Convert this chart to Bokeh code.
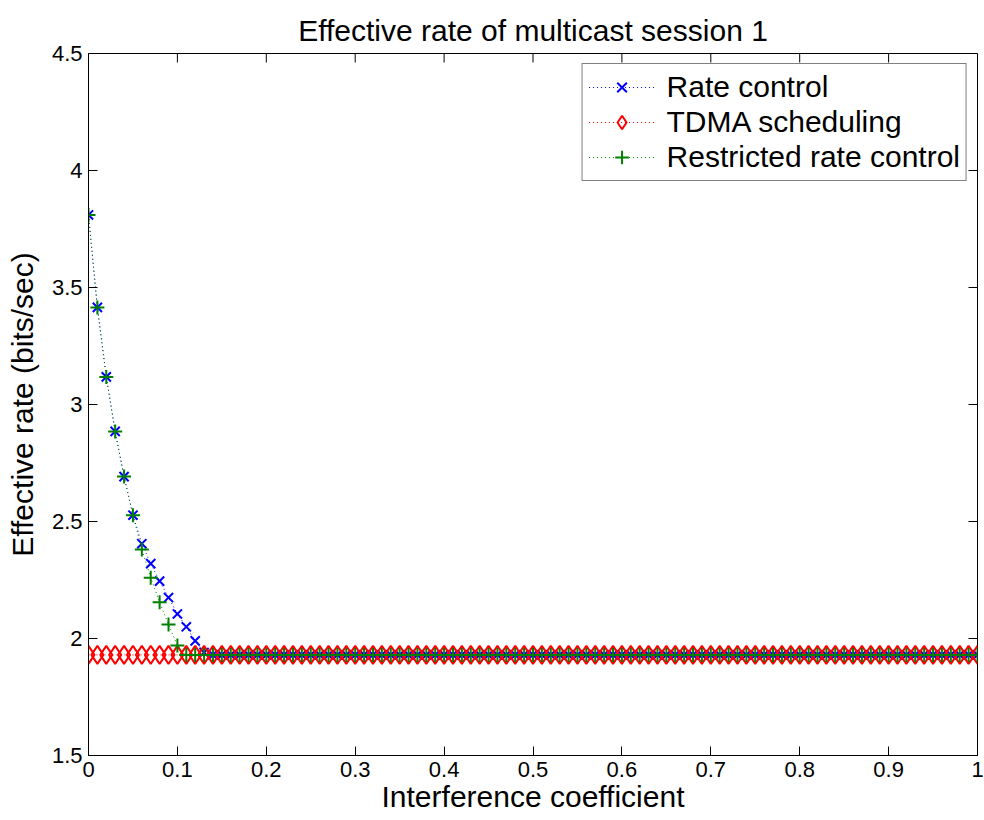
import math
from bokeh.plotting import figure
from bokeh.models import FixedTicker, Legend, LegendItem, Range1d
from bokeh.embed import file_html
from bokeh.resources import INLINE

# Interference coefficient grid (0 to 1 in steps of 0.01)
x = [i / 100 for i in range(101)]

rate_control = [
    3.81, 3.415, 3.118, 2.885, 2.692, 2.527, 2.405, 2.32, 2.245, 2.175,
    2.105, 2.05, 1.99, 1.94, 1.93, 1.93, 1.93, 1.93, 1.93, 1.93,
    1.93, 1.93, 1.93, 1.93, 1.93, 1.93, 1.93, 1.93, 1.93, 1.93,
    1.93, 1.93, 1.93, 1.93, 1.93, 1.93, 1.93, 1.93, 1.93, 1.93,
    1.93, 1.93, 1.93, 1.93, 1.93, 1.93, 1.93, 1.93, 1.93, 1.93,
    1.93, 1.93, 1.93, 1.93, 1.93, 1.93, 1.93, 1.93, 1.93, 1.93,
    1.93, 1.93, 1.93, 1.93, 1.93, 1.93, 1.93, 1.93, 1.93, 1.93,
    1.93, 1.93, 1.93, 1.93, 1.93, 1.93, 1.93, 1.93, 1.93, 1.93,
    1.93, 1.93, 1.93, 1.93, 1.93, 1.93, 1.93, 1.93, 1.93, 1.93,
    1.93, 1.93, 1.93, 1.93, 1.93, 1.93, 1.93, 1.93, 1.93, 1.93,
    1.93,
]

tdma = [
    1.93, 1.93, 1.93, 1.93, 1.93, 1.93, 1.93, 1.93, 1.93, 1.93,
    1.93, 1.93, 1.93, 1.93, 1.93, 1.93, 1.93, 1.93, 1.93, 1.93,
    1.93, 1.93, 1.93, 1.93, 1.93, 1.93, 1.93, 1.93, 1.93, 1.93,
    1.93, 1.93, 1.93, 1.93, 1.93, 1.93, 1.93, 1.93, 1.93, 1.93,
    1.93, 1.93, 1.93, 1.93, 1.93, 1.93, 1.93, 1.93, 1.93, 1.93,
    1.93, 1.93, 1.93, 1.93, 1.93, 1.93, 1.93, 1.93, 1.93, 1.93,
    1.93, 1.93, 1.93, 1.93, 1.93, 1.93, 1.93, 1.93, 1.93, 1.93,
    1.93, 1.93, 1.93, 1.93, 1.93, 1.93, 1.93, 1.93, 1.93, 1.93,
    1.93, 1.93, 1.93, 1.93, 1.93, 1.93, 1.93, 1.93, 1.93, 1.93,
    1.93, 1.93, 1.93, 1.93, 1.93, 1.93, 1.93, 1.93, 1.93, 1.93,
    1.93,
]

restricted = [
    3.81, 3.415, 3.118, 2.885, 2.692, 2.527, 2.38, 2.26, 2.155, 2.06,
    1.97, 1.93, 1.93, 1.93, 1.93, 1.93, 1.93, 1.93, 1.93, 1.93,
    1.93, 1.93, 1.93, 1.93, 1.93, 1.93, 1.93, 1.93, 1.93, 1.93,
    1.93, 1.93, 1.93, 1.93, 1.93, 1.93, 1.93, 1.93, 1.93, 1.93,
    1.93, 1.93, 1.93, 1.93, 1.93, 1.93, 1.93, 1.93, 1.93, 1.93,
    1.93, 1.93, 1.93, 1.93, 1.93, 1.93, 1.93, 1.93, 1.93, 1.93,
    1.93, 1.93, 1.93, 1.93, 1.93, 1.93, 1.93, 1.93, 1.93, 1.93,
    1.93, 1.93, 1.93, 1.93, 1.93, 1.93, 1.93, 1.93, 1.93, 1.93,
    1.93, 1.93, 1.93, 1.93, 1.93, 1.93, 1.93, 1.93, 1.93, 1.93,
    1.93, 1.93, 1.93, 1.93, 1.93, 1.93, 1.93, 1.93, 1.93, 1.93,
    1.93,
]

x_ticks = [0, 0.1, 0.2, 0.3, 0.4, 0.5, 0.6, 0.7, 0.8, 0.9, 1]
x_tick_labels = ["0", "0.1", "0.2", "0.3", "0.4", "0.5", "0.6", "0.7", "0.8", "0.9", "1"]
y_ticks = [1.5, 2, 2.5, 3, 3.5, 4, 4.5]
y_tick_labels = ["1.5", "2", "2.5", "3", "3.5", "4", "4.5"]

series_names = ["Rate control", "TDMA scheduling", "Restricted rate control"]

FONT = "Liberation Sans"
BLUE = "#0000ff"
RED = "#ff0000"
GREEN = "#008000"
X_MIN, X_MAX = 0, 1
Y_MIN, Y_MAX = 1.5, 4.5

p = figure(
    width=984, height=820,
    x_range=Range1d(X_MIN, X_MAX), y_range=Range1d(Y_MIN, Y_MAX),
    output_backend="svg", toolbar_location=None,
    title="Effective rate of multicast session 1",
    min_border_left=88, min_border_right=7, min_border_top=53, min_border_bottom=65,
    x_axis_label="Interference coefficient",
    y_axis_label="Effective rate (bits/sec)",
)
p.grid.visible = False
p.outline_line_color = "black"
p.outline_line_width = 1
p.background_fill_color = "white"
p.border_fill_color = "white"

p.title.align = "center"
p.title.text_font = FONT
p.title.text_font_size = "30px"
p.title.text_font_style = "normal"
p.title.text_color = "black"
p.title.standoff = 14


def style_axis(ax, ticks, labels):
    ax.ticker = FixedTicker(ticks=ticks)
    ax.major_label_overrides = {t: l for t, l in zip(ticks, labels)}
    ax.major_tick_in = 9
    ax.major_tick_out = 0
    ax.minor_tick_line_color = None
    ax.axis_line_color = "black"
    ax.major_tick_line_color = "black"
    ax.major_label_text_font = FONT
    ax.major_label_text_font_size = "22px"
    ax.major_label_text_color = "black"
    ax.axis_label_text_font = FONT
    ax.axis_label_text_font_size = "30px"
    ax.axis_label_text_font_style = "normal"
    ax.axis_label_text_color = "black"


style_axis(p.xaxis[0], x_ticks, x_tick_labels)
p.xaxis[0].major_label_standoff = 6
p.xaxis[0].axis_label_standoff = 0
style_axis(p.yaxis[0], y_ticks, y_tick_labels)
p.yaxis[0].major_label_standoff = 6
p.yaxis[0].axis_label_standoff = 10

# inward ticks on the top and right edges of the box
p.ray(x=x_ticks, y=[Y_MAX] * len(x_ticks), length=9, length_units="screen",
      angle=-math.pi / 2, line_color="black", line_width=1)
p.ray(x=[X_MAX] * len(y_ticks), y=y_ticks, length=9, length_units="screen",
      angle=math.pi, line_color="black", line_width=1)

l1 = p.line(x, rate_control, line_color=BLUE, line_dash="1 3", line_width=1)
s1 = p.scatter(x, rate_control, marker="x", size=13, line_color=BLUE, line_width=2)
l2 = p.line(x, tdma, line_color=RED, line_dash="1 3", line_width=1)
s2 = p.scatter(x, tdma, marker="diamond", size=18, line_color=RED, fill_color=None, line_width=2)
l3 = p.line(x, restricted, line_color=GREEN, line_dash="1 3", line_width=1)
s3 = p.scatter(x, restricted, marker="cross", size=14, line_color=GREEN, line_width=2)

legend = Legend(
    items=[
        LegendItem(label=series_names[0], renderers=[l1, s1]),
        LegendItem(label=series_names[1], renderers=[l2, s2]),
        LegendItem(label=series_names[2], renderers=[l3, s3]),
    ],
    location="top_right",
)
legend.label_text_font = FONT
legend.label_text_font_size = "30px"
legend.label_text_color = "black"
legend.border_line_color = "black"
legend.border_line_width = 1
legend.background_fill_color = "white"
legend.background_fill_alpha = 1
legend.glyph_width = 66
legend.glyph_height = 34
legend.label_height = 34
legend.label_standoff = 12
legend.spacing = 1
legend.padding = 6
legend.margin = 10
p.add_layout(legend)

open("out.html", "w").write(file_html(p, INLINE))
